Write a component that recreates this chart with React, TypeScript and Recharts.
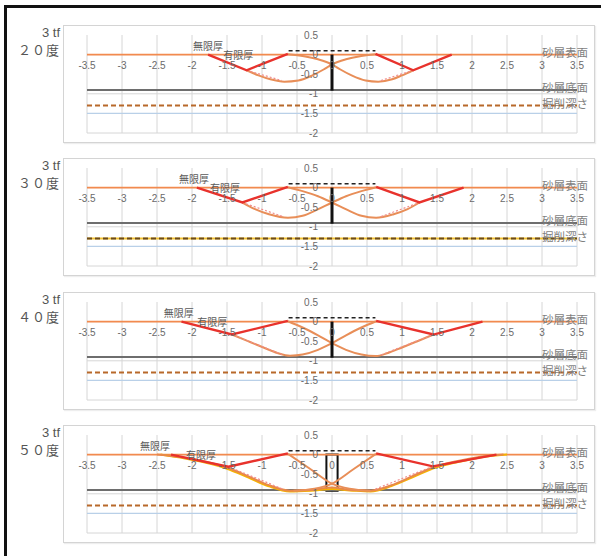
import React from 'react';
import { ComposedChart, Line, XAxis, YAxis, CartesianGrid, ReferenceLine, ReferenceDot, ReferenceArea } from 'recharts';

// ---- tick labels / categories ----
const xTicks = [-3.5, -3, -2.5, -2, -1.5, -1, -0.5, 0, 0.5, 1, 1.5, 2, 2.5, 3, 3.5];
const yTicks = [0.5, 0, -0.5, -1, -1.5, -2];
const angleLabels = ['２０度', '３０度', '４０度', '５０度'];
const loadLabel = '3 tf';
const levelNames = ['砂層表面', '砂層底面', '掘削深さ'];
const levelValues = [0, -0.9, -1.3];
const extraLevel = -1.5;
const plateLevel = 0.1;
const plateEnds = [-0.62, 0.62];
const wallDepth = -0.92;
const wallHalf = [-0.08, 0.08];
const curveNames = ['無限厚', '有限厚'];

// ---- series values: 20度 ----
const red20 = [{ x: -1.77, y: 0 }, { x: -1.22, y: -0.4 }, { x: -0.63, y: 0.02 }, { x: 0, y: null }, { x: 0.62, y: 0.02 }, { x: 1.16, y: -0.4 }, { x: 1.71, y: 0 }];
const curveA20 = [{ x: -1.22, y: -0.4 }, { x: -1.05, y: -0.53 }, { x: -0.88, y: -0.63 }, { x: -0.68, y: -0.69 }, { x: -0.48, y: -0.66 }, { x: -0.28, y: -0.53 }, { x: -0.12, y: -0.38 }, { x: 0, y: -0.25 }, { x: 0.2, y: -0.12 }, { x: 0.4, y: -0.04 }, { x: 0.62, y: 0.01 }];
const curveB20 = [{ x: -0.63, y: 0.01 }, { x: -0.4, y: -0.04 }, { x: -0.2, y: -0.12 }, { x: 0, y: -0.25 }, { x: 0.12, y: -0.38 }, { x: 0.28, y: -0.53 }, { x: 0.48, y: -0.66 }, { x: 0.66, y: -0.69 }, { x: 0.86, y: -0.63 }, { x: 1.0, y: -0.53 }, { x: 1.16, y: -0.4 }];
const dotted20 = [{ x: -1.22, y: -0.4 }, { x: -0.72, y: -0.66 }, { x: 0, y: null }, { x: 0.7, y: -0.66 }, { x: 1.16, y: -0.4 }];
const names20 = [{ x: -1.77, y: 0.24 }, { x: -1.34, y: 0 }];

// ---- series values: 30度 ----
const red30 = [{ x: -1.93, y: 0 }, { x: -1.28, y: -0.38 }, { x: -0.63, y: 0.02 }, { x: 0, y: null }, { x: 0.63, y: 0.02 }, { x: 1.25, y: -0.38 }, { x: 1.88, y: 0 }];
const curveA30 = [{ x: -1.28, y: -0.38 }, { x: -1.1, y: -0.55 }, { x: -0.9, y: -0.68 }, { x: -0.63, y: -0.77 }, { x: -0.42, y: -0.72 }, { x: -0.22, y: -0.57 }, { x: 0, y: -0.38 }, { x: 0.2, y: -0.22 }, { x: 0.42, y: -0.09 }, { x: 0.63, y: 0.01 }];
const curveB30 = [{ x: -0.63, y: 0.01 }, { x: -0.42, y: -0.09 }, { x: -0.2, y: -0.22 }, { x: 0, y: -0.38 }, { x: 0.22, y: -0.57 }, { x: 0.42, y: -0.72 }, { x: 0.63, y: -0.77 }, { x: 0.88, y: -0.68 }, { x: 1.08, y: -0.55 }, { x: 1.25, y: -0.38 }];
const dotted30 = [{ x: -1.28, y: -0.38 }, { x: -0.7, y: -0.74 }, { x: 0, y: null }, { x: 0.7, y: -0.74 }, { x: 1.25, y: -0.38 }];
const names30 = [{ x: -1.97, y: 0.23 }, { x: -1.53, y: 0 }];

// ---- series values: 40度 ----
const red40 = [{ x: -2.15, y: 0 }, { x: -1.43, y: -0.33 }, { x: -0.63, y: 0.02 }, { x: 0, y: null }, { x: 0.63, y: 0.02 }, { x: 1.45, y: -0.33 }, { x: 2.15, y: 0 }];
const curveA40 = [{ x: -1.43, y: -0.33 }, { x: -1.2, y: -0.5 }, { x: -0.98, y: -0.66 }, { x: -0.78, y: -0.8 }, { x: -0.6, y: -0.87 }, { x: -0.42, y: -0.84 }, { x: -0.2, y: -0.72 }, { x: 0, y: -0.55 }, { x: 0.2, y: -0.35 }, { x: 0.42, y: -0.15 }, { x: 0.63, y: 0.01 }];
const curveB40 = [{ x: -0.63, y: 0.01 }, { x: -0.42, y: -0.15 }, { x: -0.2, y: -0.35 }, { x: 0, y: -0.55 }, { x: 0.2, y: -0.72 }, { x: 0.42, y: -0.84 }, { x: 0.62, y: -0.88 }, { x: 0.8, y: -0.8 }, { x: 1.0, y: -0.66 }, { x: 1.22, y: -0.5 }, { x: 1.45, y: -0.33 }];
const dotted40 = [{ x: -1.43, y: -0.33 }, { x: -0.7, y: -0.85 }, { x: 0, y: null }, { x: 0.7, y: -0.85 }, { x: 1.45, y: -0.33 }];
const names40 = [{ x: -2.19, y: 0.22 }, { x: -1.71, y: 0 }];

// ---- series values: 50度 ----
const red50 = [{ x: -2.3, y: 0 }, { x: -1.48, y: -0.31 }, { x: -0.63, y: 0.03 }, { x: 0, y: null }, { x: 0.63, y: 0.03 }, { x: 1.44, y: -0.3 }, { x: 2.35, y: 0 }];
const outerOrange50 = [{ x: -2.5, y: 0 }, { x: -2.1, y: -0.08 }, { x: -1.8, y: -0.18 }, { x: -1.5, y: -0.33 }, { x: -1.2, y: -0.55 }, { x: -0.9, y: -0.78 }, { x: -0.6, y: -0.92 }, { x: -0.3, y: -0.9 }, { x: 0, y: -0.84 }, { x: 0.25, y: -0.9 }, { x: 0.55, y: -0.92 }, { x: 0.85, y: -0.78 }, { x: 1.15, y: -0.55 }, { x: 1.45, y: -0.32 }, { x: 1.8, y: -0.16 }, { x: 2.1, y: -0.06 }, { x: 2.45, y: 0 }];
const outerYellow50 = [{ x: -2.45, y: 0 }, { x: -2.1, y: -0.1 }, { x: -1.8, y: -0.21 }, { x: -1.5, y: -0.36 }, { x: -1.2, y: -0.58 }, { x: -0.9, y: -0.81 }, { x: -0.6, y: -0.94 }, { x: -0.3, y: -0.92 }, { x: 0, y: -0.88 }, { x: 0.3, y: -0.92 }, { x: 0.55, y: -0.94 }, { x: 0.85, y: -0.8 }, { x: 1.15, y: -0.58 }, { x: 1.45, y: -0.35 }, { x: 1.8, y: -0.19 }, { x: 2.1, y: -0.08 }, { x: 2.5, y: 0 }];
const curveA50 = [{ x: -0.63, y: 0.02 }, { x: -0.3, y: -0.38 }, { x: 0, y: -0.74 }, { x: 0.25, y: -0.87 }, { x: 0.55, y: -0.92 }];
const curveB50 = [{ x: -0.55, y: -0.92 }, { x: -0.25, y: -0.87 }, { x: 0, y: -0.74 }, { x: 0.3, y: -0.38 }, { x: 0.63, y: 0.02 }];
const dotted50 = [{ x: -1.48, y: -0.31 }, { x: -0.7, y: -0.88 }, { x: 0, y: null }, { x: 0.62, y: -0.88 }, { x: 1.44, y: -0.3 }];
const names50 = [{ x: -2.53, y: 0.24 }, { x: -1.87, y: 0.01 }];

const FONT = '"Liberation Sans", Arial, "Noto Sans CJK JP", sans-serif';
const CJK = '"Noto Sans CJK JP", "Liberation Sans", sans-serif';

const TxtLabel = (props: any) => {
  const { viewBox, txt, tx = 0, ty = 0, anchor = 'middle', size = 10, color = '#666', family = FONT } = props;
  if (!viewBox) return null;
  const cx = viewBox.x + (viewBox.width || 0) / 2;
  const cy = viewBox.y + (viewBox.height || 0) / 2;
  return (
    <text x={cx + tx} y={cy + ty} textAnchor={anchor} dominantBaseline="central" fontSize={size} fill={color} fontFamily={family}>
      {txt}
    </text>
  );
};

type PanelProps = {
  top: number;
  angle: string;
  red: any[];
  curves: any[][];
  extras?: { data: any[]; color: string }[];
  dotted: any[];
  names: { x: number; y: number }[];
  box?: boolean;
  yellowDash?: boolean;
};

const W = 532;
const H = 118;
const LEFT = 63;

function Panel({ top, angle, red, curves, extras = [], dotted, names, box, yellowDash }: PanelProps) {
  return (
    <>
      <div style={{ position: 'absolute', left: LEFT, top, width: W, height: H, border: '1px solid #d4d4d4', boxSizing: 'border-box', boxShadow: '1px 1px 1px #eee' }} />
      <div style={{ position: 'absolute', right: 601 - 60, top: top + 0, fontFamily: FONT, fontSize: 13, color: '#555', whiteSpace: 'nowrap', lineHeight: '16px' }}>{loadLabel}</div>
      <div style={{ position: 'absolute', right: 601 - 60, top: top + 17, fontFamily: CJK, fontSize: 13, color: '#555', whiteSpace: 'nowrap', lineHeight: '16px', letterSpacing: 1 }}>{angle}</div>
      <div style={{ position: 'absolute', left: LEFT, top }}>
        <ComposedChart width={W} height={H} margin={{ top: 10, right: 18, bottom: 10, left: 24 }}>
          <XAxis dataKey="x" type="number" domain={[-3.5, 3.5]} ticks={xTicks} hide allowDataOverflow />
          <YAxis type="number" domain={[-2, 0.5]} ticks={yTicks} hide allowDataOverflow />
          <CartesianGrid stroke="#d6d6d6" strokeWidth={1} horizontalValues={yTicks} verticalValues={xTicks} />
          <ReferenceLine y={extraLevel} stroke="#b9d0e8" strokeWidth={1.2} />
          <ReferenceLine y={levelValues[1]} stroke="#6e6e6e" strokeWidth={2} />
          {yellowDash && <ReferenceLine y={levelValues[2]} stroke="#f2c230" strokeWidth={2} />}
          <ReferenceLine y={levelValues[2]} stroke={yellowDash ? '#6b4a1e' : '#b8692a'} strokeWidth={2} strokeDasharray="5 3" />
          <ReferenceLine y={levelValues[0]} stroke="#f28a4e" strokeWidth={1.6} />
          {extras.map((e, i) => (
            <Line key={'e' + i} data={e.data} dataKey="y" type="monotone" stroke={e.color} strokeWidth={2} dot={false} activeDot={false} isAnimationActive={false} />
          ))}
          {curves.map((c, i) => (
            <Line key={'c' + i} data={c} dataKey="y" type="monotone" stroke="#e88e58" strokeWidth={2} dot={false} activeDot={false} isAnimationActive={false} />
          ))}
          <Line data={dotted} dataKey="y" type="linear" stroke="#f08c8c" strokeWidth={1.2} strokeDasharray="2 2" dot={false} activeDot={false} connectNulls={false} isAnimationActive={false} />
          <Line data={red} dataKey="y" type="linear" stroke="#e8322c" strokeWidth={2.4} dot={false} activeDot={false} connectNulls={false} isAnimationActive={false} />
          <ReferenceLine segment={[{ x: plateEnds[0], y: plateLevel }, { x: plateEnds[1], y: plateLevel }]} stroke="#222" strokeWidth={1.6} strokeDasharray="4 3" />
          {box ? (
            <ReferenceArea x1={wallHalf[0]} x2={wallHalf[1]} y1={wallDepth} y2={0} fill="none" stroke="#111" strokeWidth={2} />
          ) : (
            <ReferenceLine segment={[{ x: 0, y: 0 }, { x: 0, y: wallDepth }]} stroke="#111" strokeWidth={3} />
          )}
          {xTicks.map((v) => (
            <ReferenceDot key={'xt' + v} x={v} y={0} r={0} fill="none" stroke="none" label={<TxtLabel txt={String(v)} ty={11} size={10} color="#6a6a6a" />} />
          ))}
          {yTicks.map((v) => (
            <ReferenceDot key={'yt' + v} x={0} y={v} r={0} fill="none" stroke="none" label={<TxtLabel txt={String(v)} tx={-14} anchor="end" size={10} color="#6a6a6a" />} />
          ))}
          {levelValues.map((v, i) => (
            <ReferenceDot key={'lv' + i} x={3} y={v} r={0} fill="none" stroke="none" label={<TxtLabel txt={levelNames[i]} tx={0} ty={-3} anchor="start" size={11.5} color="#7f7f7f" family={CJK} />} />
          ))}
          {names.map((p, i) => (
            <ReferenceDot key={'nm' + i} x={p.x} y={p.y} r={0} fill="none" stroke="none" label={<TxtLabel txt={curveNames[i]} size={10} color="#5a5a5a" family={CJK} />} />
          ))}
        </ComposedChart>
      </div>
    </>
  );
}

export default function App() {
  return (
    <div style={{ position: 'absolute', left: 0, top: 0, width: 601, height: 556, overflow: 'hidden', background: '#fff' }}>
      <div style={{ position: 'absolute', left: 4, top: 5, width: 800, height: 800, border: '3px solid #111' }} />
      <Panel top={25} angle={angleLabels[0]} red={red20} curves={[curveA20, curveB20]} dotted={dotted20} names={names20} />
      <Panel top={158} angle={angleLabels[1]} red={red30} curves={[curveA30, curveB30]} dotted={dotted30} names={names30} yellowDash />
      <Panel top={292} angle={angleLabels[2]} red={red40} curves={[curveA40, curveB40]} dotted={dotted40} names={names40} />
      <Panel
        top={425}
        angle={angleLabels[3]}
        red={red50}
        curves={[curveA50, curveB50]}
        extras={[{ data: outerYellow50, color: '#f5b400' }, { data: outerOrange50, color: '#e8884a' }]}
        dotted={dotted50}
        names={names50}
        box
      />
    </div>
  );
}
